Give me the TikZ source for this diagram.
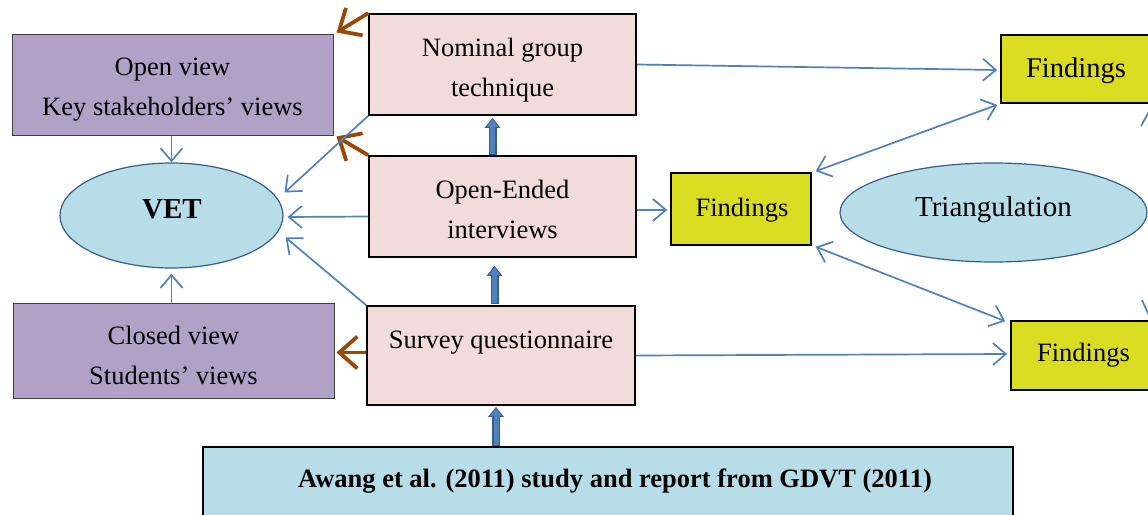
\documentclass[tikz,border=0pt]{standalone}
\usepackage{fontspec}
\setmainfont{Liberation Serif}
\usetikzlibrary{arrows.meta,calc,shapes.geometric}
\definecolor{pinkfill}{HTML}{F2DCDB}
\definecolor{purplefill}{HTML}{B2A1C7}
\definecolor{lbluefill}{HTML}{B7DEE8}
\definecolor{yellowfill}{HTML}{D9DC20}
\definecolor{brownline}{HTML}{984807}
\definecolor{blueline}{HTML}{4F81BD}
\definecolor{darkblue}{HTML}{385D8A}
\tikzset{
  txt/.style={font=\fontsize{26.5}{40}\selectfont, align=center, text=black, inner sep=0pt},
  bigtxt/.style={txt, font=\fontsize{29}{40}\selectfont},
  methodbox/.style={rectangle, draw=black, line width=1.6pt, fill=pinkfill, inner sep=0pt},
  viewbox/.style={rectangle, draw=black!75, line width=1pt, fill=purplefill, inner sep=0pt},
  findbox/.style={rectangle, draw=black, line width=1.6pt, fill=yellowfill, inner sep=0pt},
  ovalnode/.style={ellipse, draw=darkblue, line width=1.2pt, fill=lbluefill, inner sep=0pt},
  srcbox/.style={rectangle, draw=black, line width=1.6pt, fill=lbluefill, inner sep=0pt},
  thinarr/.style={draw=blueline, line width=1.7pt, -{Straight Barb[length=13pt,width=22pt,line width=1.7pt]}},
  dblarr/.style={draw=blueline, line width=1.7pt, {Straight Barb[length=13pt,width=22pt,line width=1.7pt]}-{Straight Barb[length=13pt,width=22pt,line width=1.7pt]}},
  brownarr/.style={draw=brownline, line width=3.8pt, -{Straight Barb[length=18pt,width=32pt,line width=3.8pt]}},
  blockouter/.style={draw=darkblue, line width=8pt, -{Triangle[length=10pt,width=15pt]}},
  blockinner/.style={draw=blueline, line width=5pt, shorten >=1.6pt, shorten <=1.2pt, -{Triangle[length=7.5pt,width=11pt]}},
}
\begin{document}
\begin{tikzpicture}[x=1pt,y=-1pt]
\useasboundingbox (0,0) rectangle (1148,514);
\fill[white] (0,0) rectangle (1148,514);
\clip (0,0) rectangle (1148,514);

% shapes
\node[viewbox, minimum width=321pt, minimum height=101pt] (ov) at (172.5,84.5) {};
\node[ovalnode, minimum width=223pt, minimum height=105pt] (vet) at (171.5,215.5) {};
\node[viewbox, minimum width=321pt, minimum height=95pt] (cv) at (173.5,350.5) {};

\node[methodbox, minimum width=267pt, minimum height=101pt] (ng) at (502.5,64.5) {};
\node[methodbox, minimum width=267pt, minimum height=101pt] (oe) at (502.5,206.5) {};
\node[methodbox, minimum width=268pt, minimum height=99pt] (sq) at (501,355.5) {};

\node[findbox, minimum width=140pt, minimum height=72pt] (f2) at (741,209) {};
\node[findbox, minimum width=150pt, minimum height=68pt] (f1) at (1076,69) {};
\node[findbox, minimum width=145pt, minimum height=69pt] (f3) at (1083.5,355.5) {};
\node[ovalnode, minimum width=307pt, minimum height=99pt] (tri) at (993.5,212.5) {};

\node[srcbox, minimum width=810pt, minimum height=70pt] (src) at (608,482) {};

% texts
\node[txt] (ovt) at (172.5,90) {Open view\\Key stakeholders’ views};
\node[bigtxt] (vett) at (172,209) {\bfseries VET};
\node[txt] (cvt) at (173.5,355.5) {Closed view\\Students’ views};
\node[txt] (ngt) at (502.5,70.5) {Nominal group\\technique};
\node[txt] (oet) at (502.5,209.5) {Open-Ended\\interviews};
\node[txt] (sqt) at (501,343) {Survey questionnaire};
\node[txt] (f2t) at (742,210) {Findings};
\node[txt, font=\fontsize{28.5}{40}\selectfont] (f1t) at (1076,71) {Findings};
\node[txt] (f3t) at (1083.5,355) {Findings};
\node[bigtxt] (trit) at (993.5,210) {Triangulation};
\node[txt] (srct) at (615,481) {\bfseries Awang et al. (2011) study and report from GDVT (2011)};

% brown arrows
\draw[brownarr] (ng.north west) -- ($(ov.north east)+(3,-1)$);
\draw[brownarr] (oe.north west) -- ($(ov.south east)+(3,1)$);
\draw[brownarr] ($(sq.west)+(0,-3)$) -- ($(cv.east)+(2,2)$);

% thin blue arrows to VET
\draw[thinarr] (ng.south west) -- ($(vet.east)+(1,-23)$);
\draw[thinarr] ($(oe.west)+(0,10)$) -- ($(vet.east)+(4,1.5)$);
\draw[thinarr] (sq.north west) -- ($(vet.east)+(2,22)$);
\draw[thinarr] (ov.south -| vet.north) -- (vet.north);
\draw[thinarr] (cv.north -| vet.south) -- ($(vet.south)+(0,5)$);

% to findings
\draw[thinarr] ($(oe.east)+(0,3.5)$) -- ($(f2.west)+(-3,1)$);
\draw[thinarr] (ng.east) -- ($(f1.west)+(-3,1)$);
\draw[thinarr] ($(sq.east)+(0,0)$) -- ($(f3.west)+(-3,-1.5)$);
\draw[dblarr] ($(f2.north east)+(4,-1)$) -- ($(f1.south west)+(-3,1)$);
\draw[dblarr] ($(f2.south east)+(4,1)$) -- ($(f3.north west)+(-5,1)$);

% partial connectors at the right edge
\coordinate (ra) at (1141,126);
\coordinate (rb) at (1152,106);
\coordinate (rc) at (1142,300);
\coordinate (rd) at (1151,320);
\draw[draw=blueline, line width=1.7pt] (ra) -- (rb);
\draw[draw=blueline, line width=1.7pt] (rc) -- (rd);

% block arrows
\coordinate (b1s) at ($(oe.north)+(-10,0)$);
\coordinate (b1e) at ($(ng.south)+(-10,2)$);
\draw[blockouter] (b1s) -- (b1e);
\draw[blockinner] (b1s) -- (b1e);
\coordinate (b2s) at ($(sq.north)+(-6.5,-1)$);
\coordinate (b2e) at ($(oe.south)+(-8,8)$);
\draw[blockouter] (b2s) -- (b2e);
\draw[blockinner] (b2s) -- (b2e);
\coordinate (b3s) at ($(src.north -| sq.south)+(-5,0)$);
\coordinate (b3e) at ($(sq.south)+(-5,1)$);
\draw[blockouter] (b3s) -- (b3e);
\draw[blockinner] (b3s) -- (b3e);
\end{tikzpicture}
\end{document}
